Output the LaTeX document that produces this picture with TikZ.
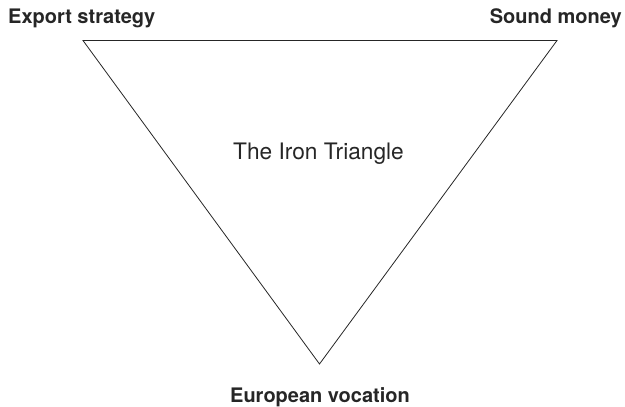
\documentclass[tikz,border=0pt]{standalone}
\usepackage{fontspec}
\setmainfont{TeX Gyre Heros}
\usepackage{tikz}
\usetikzlibrary{positioning}

\begin{document}
\begin{tikzpicture}[
    x=1pt, y=-1pt,
    corner/.style={font=\bfseries\fontsize{20}{24}\selectfont, text=black!85, inner sep=0pt},
    title/.style={font=\fontsize{22.7}{27}\selectfont, text=black!85, inner sep=0pt},
    side/.style={draw=black!85, line width=0.8pt, line join=miter}
]
    \useasboundingbox (0,0) rectangle (625,407);

    \coordinate (export) at (83,40.5);
    \coordinate (money) at (557,40.5);
    \coordinate (europe) at (319.5,364);

    \node[corner, anchor=base west] (exportlabel) at (8,23) {Export strategy};
    \node[corner, anchor=base east] (moneylabel) at (622,23) {Sound money};
    \node[corner, anchor=base] (europelabel) at (320,402) {European vocation};
    \node[title, anchor=base] (iron) at (318.5,159) {The Iron Triangle};

    \draw[side] (export) -- (money) -- (europe) -- cycle;
\end{tikzpicture}
\end{document}
